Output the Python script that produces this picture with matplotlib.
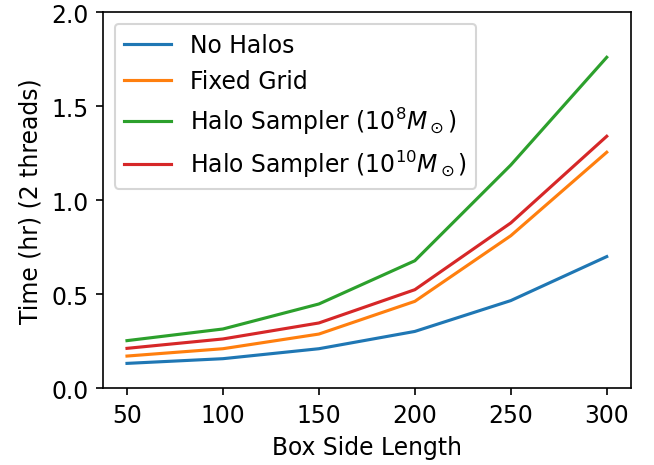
import matplotlib
matplotlib.use("Agg")
import matplotlib.pyplot as plt

# Run time against box size for each halo treatment
box_sizes = [50, 100, 150, 200, 250, 300]
no_halos = [0.131, 0.156, 0.209, 0.301, 0.465, 0.699]
fixed_grid = [0.170, 0.209, 0.287, 0.461, 0.810, 1.254]
sampler_1e8 = [0.252, 0.314, 0.447, 0.677, 1.186, 1.759]
sampler_1e10 = [0.211, 0.261, 0.346, 0.523, 0.878, 1.339]
y_ticks = [0.0, 0.5, 1.0, 1.5, 2.0]

plt.rcParams["font.size"] = 11.3

fig = plt.figure(figsize=(654 / 150, 466 / 150), dpi=150)
ax = fig.add_axes([0.1575, 0.1652, 0.8069, 0.8069])

ax.plot(box_sizes, no_halos, label="No Halos")
ax.plot(box_sizes, fixed_grid, label="Fixed Grid")
ax.plot(box_sizes, sampler_1e8, label=r"Halo Sampler ($10^8 M_\odot$)")
ax.plot(box_sizes, sampler_1e10, label=r"Halo Sampler ($10^{10} M_\odot$)")

ax.set_ylim(0, 2.0)
ax.set_yticks(y_ticks)
ax.set_xlabel("Box Side Length")
ax.set_ylabel("Time (hr) (2 threads)")
ax.legend(loc="upper left")

fig.savefig("out.png", dpi=150)
